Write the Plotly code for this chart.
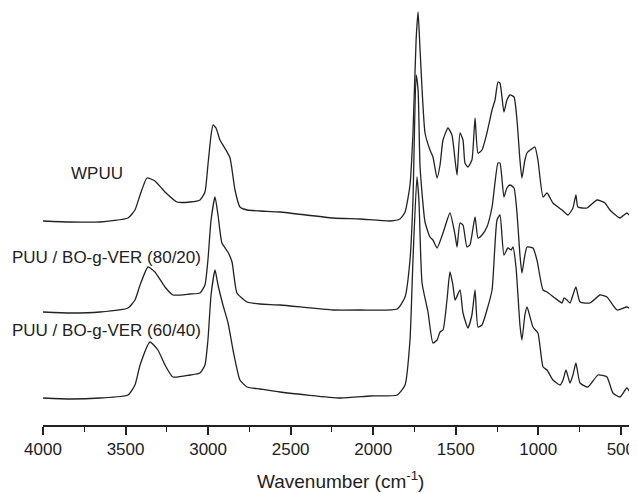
import plotly.graph_objects as go

# ---- data (wavenumber in cm^-1, stacked intensity in arbitrary units) ----
wn_wpuu = [4000, 3836, 3655, 3485, 3443, 3412, 3370, 3322, 3261, 3188, 3110, 3049, 3019, 3001, 2982, 2970,
           2952, 2928, 2892, 2867, 2837, 2807, 2764, 2686, 2564, 2243, 2080, 1898, 1838, 1807, 1777, 1759,
           1740, 1728, 1716, 1686, 1656, 1638, 1613, 1595, 1577, 1547, 1523, 1504, 1492, 1474, 1456, 1444,
           1426, 1402, 1383, 1365, 1341, 1311, 1280, 1262, 1244, 1232, 1208, 1190, 1171, 1147, 1129, 1111,
           1099, 1081, 1068, 1032, 1020, 1002, 971, 947, 911, 856, 820, 790, 772, 760, 705, 644, 596, 566,
           505, 463, 433, 402]
a_wpuu = [204, 203, 203, 207, 215, 230, 247, 244, 233, 223, 223, 225, 233, 260, 290, 300,
          297, 285, 275, 267, 235, 218, 215, 214, 213, 207, 206, 204, 206, 213, 240, 292,
          385, 413, 375, 292, 275, 268, 247, 260, 285, 297, 290, 265, 250, 292, 285, 262,
          258, 265, 307, 272, 275, 292, 315, 325, 343, 342, 313, 325, 330, 328, 305, 265,
          247, 265, 272, 277, 278, 265, 228, 232, 222, 215, 210, 217, 230, 218, 217, 225, 222, 215,
          207, 212, 207, 205]

wn_8020 = [4000, 3836, 3655, 3485, 3443, 3412, 3364, 3322, 3261, 3213, 3110, 3049, 3019, 3001, 2982, 2958,
           2940, 2916, 2880, 2855, 2825, 2764, 2686, 2564, 2243, 2080, 1855, 1807, 1777, 1759, 1740, 1728,
           1716, 1686, 1656, 1638, 1613, 1577, 1535, 1504, 1492, 1474, 1456, 1432, 1414, 1383, 1365, 1341,
           1311, 1280, 1244, 1232, 1208, 1190, 1171, 1147, 1129, 1111, 1099, 1081, 1068, 1032, 1008, 971,
           947, 899, 856, 844, 826, 808, 790, 772, 747, 687, 626, 584, 523, 463, 433, 402]
a_8020 = [113, 112, 113, 117, 125, 140, 158, 153, 138, 130, 131, 132, 140, 165, 205, 228,
          210, 182, 173, 163, 132, 123, 121, 120, 115, 115, 116, 128, 165, 225, 350, 335,
          258, 203, 188, 185, 177, 192, 212, 190, 178, 202, 200, 178, 180, 208, 187, 190,
          198, 218, 262, 262, 228, 237, 240, 237, 212, 170, 152, 170, 178, 177, 165, 135,
          133, 127, 122, 127, 125, 122, 130, 138, 123, 122, 130, 128, 115, 118, 115, 113]

wn_6040 = [4000, 3836, 3655, 3485, 3443, 3412, 3352, 3304, 3261, 3213, 3110, 3049, 3019, 3001, 2982, 2958,
           2940, 2910, 2879, 2849, 2807, 2764, 2686, 2564, 2201, 2019, 1855, 1807, 1777, 1759, 1735, 1723,
           1704, 1668, 1638, 1613, 1595, 1577, 1553, 1535, 1517, 1504, 1474, 1456, 1426, 1402, 1383, 1365,
           1341, 1311, 1280, 1250, 1232, 1208, 1184, 1165, 1153, 1135, 1111, 1099, 1081, 1068, 1032, 1002,
           971, 947, 911, 868, 850, 832, 808, 790, 772, 747, 699, 638, 584, 548, 505, 463, 433, 402]
a_6040 = [27, 26, 27, 30, 40, 60, 83, 75, 60, 48, 50, 52, 60, 85, 130, 155,
          140, 120, 102, 75, 45, 38, 36, 33, 27, 29, 30, 40, 85, 165, 248, 225,
          142, 113, 82, 85, 93, 95, 125, 153, 140, 125, 135, 112, 97, 110, 135, 98,
          100, 115, 135, 205, 210, 170, 177, 175, 178, 158, 100, 85, 110, 118, 98, 92,
          58, 55, 45, 40, 45, 55, 42, 50, 62, 42, 38, 50, 48, 32, 28, 37, 30, 28]

series_names = ["WPUU", "PUU / BO-g-VER (80/20)", "PUU / BO-g-VER (60/40)"]
label_x = [3673, 3618, 3618]
label_y = [252, 168, 95]

x_ticks = [4000, 3500, 3000, 2500, 2000, 1500, 1000, 500]

FONT = "Liberation Sans, Arial, sans-serif"
INK = "#222222"

fig = go.Figure()
for name, xs, ys in zip(series_names, [wn_wpuu, wn_8020, wn_6040], [a_wpuu, a_8020, a_6040]):
    fig.add_trace(go.Scatter(x=xs, y=ys, mode="lines", name=name,
                             line=dict(color=INK, width=1.3, shape="spline", smoothing=0.5),
                             showlegend=False, hoverinfo="skip"))

for name, lx, ly in zip(series_names, label_x, label_y):
    fig.add_annotation(x=lx, y=ly, xref="x", yref="y", text=name, showarrow=False,
                       font=dict(family=FONT, size=17, color=INK), xanchor="center", yanchor="middle")

fig.add_annotation(x=0.5, y=0, xref="paper", yref="paper", yshift=-55,
                   text="Wavenumber (cm<sup>-1</sup>)", showarrow=False,
                   font=dict(family=FONT, size=19, color=INK), xanchor="center", yanchor="middle")

# the page body adds an 8px margin, so the figure is sized 8px smaller
fig.update_layout(
    width=629, height=485,
    margin=dict(l=35, r=0, t=0, b=68),
    paper_bgcolor="white", plot_bgcolor="white",
    xaxis=dict(range=[4000, 402], tickvals=x_ticks, ticktext=[str(v) for v in x_ticks],
               showline=True, linecolor=INK, linewidth=1.6,
               ticks="outside", ticklen=8, tickwidth=1.5, tickcolor=INK,
               minor=dict(ticks="outside", ticklen=5, tickwidth=1.3, tickcolor=INK, dtick=250, tick0=0),
               showgrid=False, zeroline=False,
               tickfont=dict(family=FONT, size=17, color=INK)),
    yaxis=dict(range=[0, 417], visible=False, showgrid=False, zeroline=False),
)

fig.write_html("out.html")
